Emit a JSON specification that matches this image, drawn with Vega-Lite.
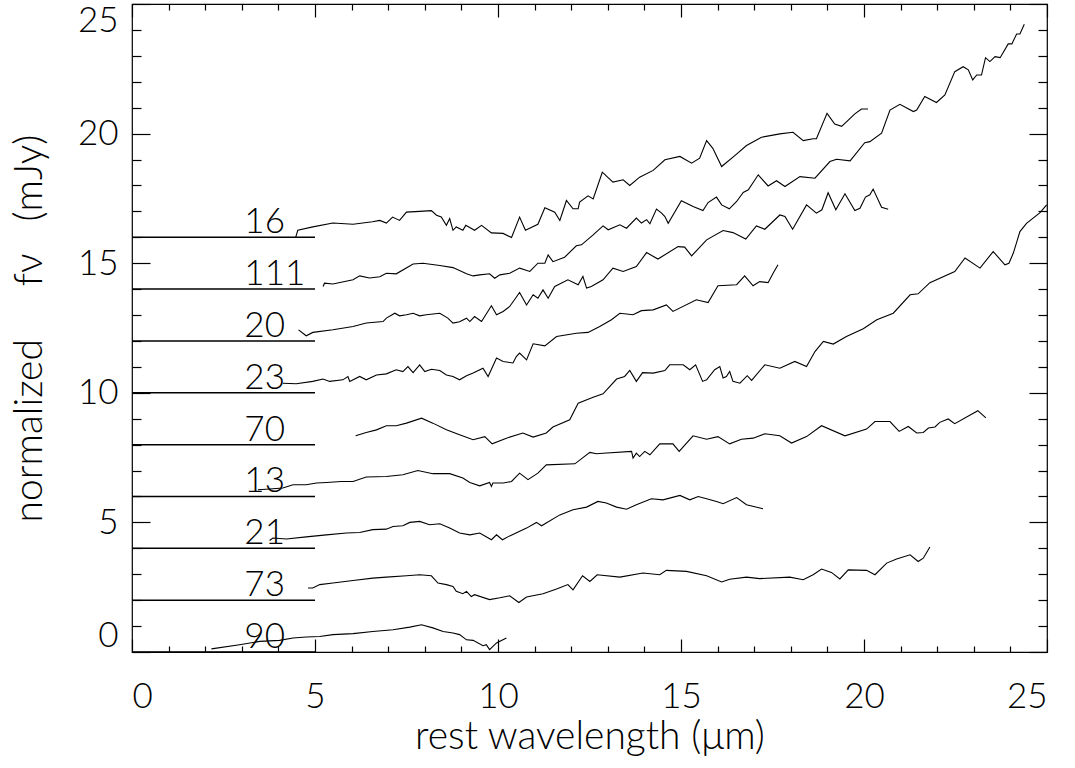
{
"$schema": "https://vega.github.io/schema/vega-lite/v6.json",
"width": 915, "height": 648,
"autosize": "none",
"padding": {"left": 132, "top": 4, "right": 28, "bottom": 116},
"background": "white",
"config": {
 "view": {"stroke": "black", "strokeWidth": 1.2},
 "axis": {"labelFont": "Lato", "labelFontWeight": 300, "labelFontSize": 35, "labelColor": "black", "titleFont": "Lato", "titleFontWeight": 300, "titleFontSize": 39, "titleColor": "black", "tickColor": "black", "tickWidth": 1.2, "tickOpacity": 1, "grid": false, "domain": false}
},
"datasets": {
 "labels": [
  {"id": "16", "base": 16}, {"id": "111", "base": 14}, {"id": "20", "base": 12}, {"id": "23", "base": 10}, {"id": "70", "base": 8},
  {"id": "13", "base": 6}, {"id": "21", "base": 4}, {"id": "73", "base": 2}, {"id": "90", "base": 0}
 ],
 "spectra": [
  {"id":"16","x":4.47,"y":15.99},{"id":"16","x":4.53,"y":16.27},{"id":"16","x":4.94,"y":16.4},{"id":"16","x":5.49,"y":16.55},{"id":"16","x":6.04,"y":16.5},{"id":"16","x":6.57,"y":16.6},{"id":"16","x":6.77,"y":16.65},{"id":"16","x":6.95,"y":16.55},{"id":"16","x":7.12,"y":16.78},{"id":"16","x":7.31,"y":16.65},{"id":"16","x":7.5,"y":16.97},{"id":"16","x":7.86,"y":17.0},{"id":"16","x":8.18,"y":17.03},{"id":"16","x":8.32,"y":16.85},{"id":"16","x":8.45,"y":16.78},{"id":"16","x":8.59,"y":16.46},{"id":"16","x":8.68,"y":16.72},{"id":"16","x":8.77,"y":16.27},{"id":"16","x":8.86,"y":16.4},{"id":"16","x":9.04,"y":16.27},{"id":"16","x":9.12,"y":16.46},{"id":"16","x":9.36,"y":16.27},{"id":"16","x":9.55,"y":16.46},{"id":"16","x":9.82,"y":16.17},{"id":"16","x":10.14,"y":16.15},{"id":"16","x":10.37,"y":15.99},{"id":"16","x":10.59,"y":16.78},{"id":"16","x":10.75,"y":16.27},{"id":"16","x":11.09,"y":16.5},{"id":"16","x":11.28,"y":17.14},{"id":"16","x":11.55,"y":16.97},{"id":"16","x":11.69,"y":16.65},{"id":"16","x":11.87,"y":17.42},{"id":"16","x":12.05,"y":17.1},{"id":"16","x":12.19,"y":17.1},{"id":"16","x":12.23,"y":17.36},{"id":"16","x":12.46,"y":17.6},{"id":"16","x":12.6,"y":17.48},{"id":"16","x":12.85,"y":18.51},{"id":"16","x":13.14,"y":18.13},{"id":"16","x":13.42,"y":18.22},{"id":"16","x":13.6,"y":18.0},{"id":"16","x":13.87,"y":18.32},{"id":"16","x":14.24,"y":18.58},{"id":"16","x":14.56,"y":18.99},{"id":"16","x":14.97,"y":19.12},{"id":"16","x":15.29,"y":18.86},{"id":"16","x":15.51,"y":19.05},{"id":"16","x":15.7,"y":19.73},{"id":"16","x":15.87,"y":19.43},{"id":"16","x":16.11,"y":18.73},{"id":"16","x":16.47,"y":19.15},{"id":"16","x":16.79,"y":19.54},{"id":"16","x":17.2,"y":19.86},{"id":"16","x":17.7,"y":19.99},{"id":"16","x":18.06,"y":20.05},{"id":"16","x":18.34,"y":19.73},{"id":"16","x":18.61,"y":19.8},{"id":"16","x":18.7,"y":19.8},{"id":"16","x":18.99,"y":20.78},{"id":"16","x":19.2,"y":20.37},{"id":"16","x":19.39,"y":20.28},{"id":"16","x":19.75,"y":20.76},{"id":"16","x":19.93,"y":20.95},{"id":"16","x":20.11,"y":20.95},
  {"id":"111","x":5.22,"y":14.1},{"id":"111","x":5.26,"y":14.23},{"id":"111","x":5.49,"y":14.2},{"id":"111","x":6.04,"y":14.36},{"id":"111","x":6.22,"y":14.51},{"id":"111","x":6.49,"y":14.43},{"id":"111","x":6.77,"y":14.48},{"id":"111","x":6.95,"y":14.61},{"id":"111","x":7.22,"y":14.59},{"id":"111","x":7.68,"y":14.97},{"id":"111","x":7.95,"y":15.0},{"id":"111","x":8.41,"y":14.91},{"id":"111","x":8.77,"y":14.83},{"id":"111","x":9.14,"y":14.59},{"id":"111","x":9.32,"y":14.51},{"id":"111","x":9.5,"y":14.55},{"id":"111","x":9.77,"y":14.59},{"id":"111","x":9.91,"y":14.42},{"id":"111","x":10.05,"y":14.55},{"id":"111","x":10.32,"y":14.61},{"id":"111","x":10.59,"y":14.81},{"id":"111","x":10.87,"y":14.68},{"id":"111","x":11.09,"y":15.0},{"id":"111","x":11.28,"y":15.0},{"id":"111","x":11.37,"y":15.32},{"id":"111","x":11.5,"y":15.06},{"id":"111","x":11.82,"y":15.23},{"id":"111","x":12.14,"y":15.67},{"id":"111","x":12.28,"y":15.71},{"id":"111","x":12.6,"y":16.09},{"id":"111","x":12.87,"y":16.44},{"id":"111","x":13.01,"y":16.29},{"id":"111","x":13.33,"y":16.48},{"id":"111","x":13.51,"y":16.35},{"id":"111","x":13.78,"y":16.74},{"id":"111","x":13.92,"y":16.55},{"id":"111","x":14.06,"y":16.68},{"id":"111","x":14.15,"y":16.52},{"id":"111","x":14.33,"y":17.09},{"id":"111","x":14.47,"y":16.93},{"id":"111","x":14.56,"y":16.8},{"id":"111","x":14.65,"y":16.54},{"id":"111","x":15.01,"y":17.41},{"id":"111","x":15.33,"y":17.19},{"id":"111","x":15.6,"y":17.03},{"id":"111","x":15.74,"y":17.34},{"id":"111","x":15.97,"y":17.55},{"id":"111","x":16.11,"y":17.25},{"id":"111","x":16.32,"y":17.1},{"id":"111","x":16.52,"y":17.38},{"id":"111","x":16.7,"y":17.73},{"id":"111","x":16.84,"y":17.83},{"id":"111","x":17.11,"y":18.41},{"id":"111","x":17.38,"y":17.98},{"id":"111","x":17.61,"y":18.18},{"id":"111","x":17.84,"y":17.96},{"id":"111","x":18.25,"y":18.34},{"id":"111","x":18.66,"y":18.28},{"id":"111","x":19.07,"y":18.92},{"id":"111","x":19.25,"y":19.01},{"id":"111","x":19.62,"y":18.95},{"id":"111","x":20.02,"y":19.65},{"id":"111","x":20.16,"y":19.69},{"id":"111","x":20.48,"y":20.02},{"id":"111","x":20.71,"y":20.91},{"id":"111","x":20.98,"y":21.13},{"id":"111","x":21.35,"y":20.85},{"id":"111","x":21.44,"y":20.91},{"id":"111","x":21.66,"y":21.43},{"id":"111","x":21.98,"y":21.2},{"id":"111","x":22.21,"y":21.49},{"id":"111","x":22.48,"y":22.39},{"id":"111","x":22.71,"y":22.58},{"id":"111","x":22.85,"y":22.46},{"id":"111","x":22.97,"y":22.07},{"id":"111","x":23.08,"y":22.26},{"id":"111","x":23.21,"y":22.26},{"id":"111","x":23.32,"y":22.93},{"id":"111","x":23.44,"y":22.78},{"id":"111","x":23.58,"y":22.97},{"id":"111","x":23.72,"y":22.93},{"id":"111","x":23.94,"y":23.46},{"id":"111","x":24.04,"y":23.46},{"id":"111","x":24.17,"y":23.84},{"id":"111","x":24.26,"y":23.84},{"id":"111","x":24.38,"y":24.22},
  {"id":"20","x":4.55,"y":12.43},{"id":"20","x":4.76,"y":12.2},{"id":"20","x":4.94,"y":12.33},{"id":"20","x":5.49,"y":12.43},{"id":"20","x":6.04,"y":12.56},{"id":"20","x":6.4,"y":12.69},{"id":"20","x":6.86,"y":12.75},{"id":"20","x":6.95,"y":12.88},{"id":"20","x":7.18,"y":13.07},{"id":"20","x":7.31,"y":12.97},{"id":"20","x":7.5,"y":13.01},{"id":"20","x":7.68,"y":13.07},{"id":"20","x":7.86,"y":12.97},{"id":"20","x":8.04,"y":13.01},{"id":"20","x":8.41,"y":13.07},{"id":"20","x":8.63,"y":12.88},{"id":"20","x":8.77,"y":12.69},{"id":"20","x":8.95,"y":12.74},{"id":"20","x":9.14,"y":12.88},{"id":"20","x":9.23,"y":12.75},{"id":"20","x":9.36,"y":12.94},{"id":"20","x":9.55,"y":12.75},{"id":"20","x":9.82,"y":13.36},{"id":"20","x":9.96,"y":13.01},{"id":"20","x":10.14,"y":13.14},{"id":"20","x":10.32,"y":13.33},{"id":"20","x":10.59,"y":13.87},{"id":"20","x":10.78,"y":13.39},{"id":"20","x":10.96,"y":13.78},{"id":"20","x":11.09,"y":13.65},{"id":"20","x":11.23,"y":13.97},{"id":"20","x":11.37,"y":13.65},{"id":"20","x":11.55,"y":14.1},{"id":"20","x":11.91,"y":14.36},{"id":"20","x":12.19,"y":14.17},{"id":"20","x":12.32,"y":14.49},{"id":"20","x":12.42,"y":14.04},{"id":"20","x":12.55,"y":14.1},{"id":"20","x":12.87,"y":14.36},{"id":"20","x":13.14,"y":14.81},{"id":"20","x":13.42,"y":14.68},{"id":"20","x":13.78,"y":14.87},{"id":"20","x":14.06,"y":15.41},{"id":"20","x":14.37,"y":15.16},{"id":"20","x":14.92,"y":15.64},{"id":"20","x":15.1,"y":15.62},{"id":"20","x":15.29,"y":15.28},{"id":"20","x":15.7,"y":15.9},{"id":"20","x":16.15,"y":16.26},{"id":"20","x":16.42,"y":16.18},{"id":"20","x":16.77,"y":15.93},{"id":"20","x":17.06,"y":16.44},{"id":"20","x":17.29,"y":16.31},{"id":"20","x":17.7,"y":16.86},{"id":"20","x":17.84,"y":16.8},{"id":"20","x":18.05,"y":16.31},{"id":"20","x":18.43,"y":17.25},{"id":"20","x":18.7,"y":16.93},{"id":"20","x":18.85,"y":17.06},{"id":"20","x":19.02,"y":17.72},{"id":"20","x":19.23,"y":17.06},{"id":"20","x":19.48,"y":17.68},{"id":"20","x":19.75,"y":17.03},{"id":"20","x":19.89,"y":17.12},{"id":"20","x":20.04,"y":17.55},{"id":"20","x":20.16,"y":17.64},{"id":"20","x":20.25,"y":17.86},{"id":"20","x":20.48,"y":17.16},{"id":"20","x":20.66,"y":17.08},
  {"id":"23","x":4.12,"y":10.37},{"id":"23","x":4.49,"y":10.35},{"id":"23","x":4.94,"y":10.44},{"id":"23","x":5.22,"y":10.53},{"id":"23","x":5.4,"y":10.44},{"id":"23","x":5.76,"y":10.5},{"id":"23","x":5.9,"y":10.63},{"id":"23","x":5.95,"y":10.44},{"id":"23","x":6.22,"y":10.63},{"id":"23","x":6.4,"y":10.5},{"id":"23","x":6.68,"y":10.69},{"id":"23","x":6.95,"y":10.73},{"id":"23","x":7.22,"y":10.89},{"id":"23","x":7.4,"y":10.82},{"id":"23","x":7.54,"y":11.01},{"id":"23","x":7.68,"y":10.78},{"id":"23","x":7.86,"y":11.08},{"id":"23","x":8.0,"y":10.82},{"id":"23","x":8.18,"y":10.91},{"id":"23","x":8.41,"y":10.86},{"id":"23","x":8.59,"y":10.69},{"id":"23","x":8.77,"y":10.63},{"id":"23","x":8.95,"y":10.5},{"id":"23","x":9.14,"y":10.66},{"id":"23","x":9.32,"y":10.76},{"id":"23","x":9.59,"y":10.95},{"id":"23","x":9.73,"y":10.63},{"id":"23","x":9.96,"y":11.34},{"id":"23","x":10.14,"y":11.21},{"id":"23","x":10.41,"y":11.15},{"id":"23","x":10.5,"y":11.4},{"id":"23","x":10.59,"y":11.53},{"id":"23","x":10.78,"y":11.27},{"id":"23","x":10.96,"y":11.89},{"id":"23","x":11.28,"y":11.81},{"id":"23","x":11.6,"y":12.17},{"id":"23","x":12.14,"y":12.3},{"id":"23","x":12.46,"y":12.33},{"id":"23","x":12.78,"y":12.56},{"id":"23","x":13.1,"y":12.82},{"id":"23","x":13.33,"y":13.07},{"id":"23","x":13.69,"y":13.01},{"id":"23","x":13.92,"y":13.17},{"id":"23","x":14.24,"y":13.2},{"id":"23","x":14.6,"y":13.39},{"id":"23","x":14.78,"y":13.14},{"id":"23","x":15.42,"y":13.59},{"id":"23","x":15.74,"y":13.48},{"id":"23","x":16.01,"y":14.13},{"id":"23","x":16.52,"y":14.17},{"id":"23","x":16.74,"y":14.51},{"id":"23","x":16.97,"y":14.13},{"id":"23","x":17.15,"y":14.29},{"id":"23","x":17.38,"y":14.25},{"id":"23","x":17.52,"y":14.62},{"id":"23","x":17.65,"y":14.94},
  {"id":"70","x":6.11,"y":8.34},{"id":"70","x":6.4,"y":8.47},{"id":"70","x":6.68,"y":8.57},{"id":"70","x":6.95,"y":8.73},{"id":"70","x":7.22,"y":8.73},{"id":"70","x":7.5,"y":8.83},{"id":"70","x":7.91,"y":9.02},{"id":"70","x":8.22,"y":8.83},{"id":"70","x":8.59,"y":8.57},{"id":"70","x":8.95,"y":8.38},{"id":"70","x":9.32,"y":8.19},{"id":"70","x":9.64,"y":8.31},{"id":"70","x":9.84,"y":8.03},{"id":"70","x":10.23,"y":8.25},{"id":"70","x":10.68,"y":8.45},{"id":"70","x":10.96,"y":8.29},{"id":"70","x":11.32,"y":8.45},{"id":"70","x":11.5,"y":8.68},{"id":"70","x":11.96,"y":8.96},{"id":"70","x":12.19,"y":9.6},{"id":"70","x":12.6,"y":9.83},{"id":"70","x":12.87,"y":9.96},{"id":"70","x":13.24,"y":10.53},{"id":"70","x":13.46,"y":10.63},{"id":"70","x":13.6,"y":10.86},{"id":"70","x":13.78,"y":10.44},{"id":"70","x":13.95,"y":10.78},{"id":"70","x":14.24,"y":10.76},{"id":"70","x":14.56,"y":10.86},{"id":"70","x":14.69,"y":11.08},{"id":"70","x":15.06,"y":11.08},{"id":"70","x":15.24,"y":10.89},{"id":"70","x":15.4,"y":11.08},{"id":"70","x":15.59,"y":10.44},{"id":"70","x":15.7,"y":10.5},{"id":"70","x":15.92,"y":10.89},{"id":"70","x":16.06,"y":11.01},{"id":"70","x":16.15,"y":10.57},{"id":"70","x":16.24,"y":10.63},{"id":"70","x":16.33,"y":10.82},{"id":"70","x":16.42,"y":10.44},{"id":"70","x":16.61,"y":10.37},{"id":"70","x":16.81,"y":10.66},{"id":"70","x":16.93,"y":10.48},{"id":"70","x":17.29,"y":11.08},{"id":"70","x":17.7,"y":10.95},{"id":"70","x":18.11,"y":11.21},{"id":"70","x":18.43,"y":11.01},{"id":"70","x":18.66,"y":11.59},{"id":"70","x":18.89,"y":11.98},{"id":"70","x":19.16,"y":11.88},{"id":"70","x":19.52,"y":12.17},{"id":"70","x":19.98,"y":12.47},{"id":"70","x":20.35,"y":12.82},{"id":"70","x":20.8,"y":13.07},{"id":"70","x":21.26,"y":13.78},{"id":"70","x":21.48,"y":13.82},{"id":"70","x":21.8,"y":14.25},{"id":"70","x":22.48,"y":14.68},{"id":"70","x":22.76,"y":15.2},{"id":"70","x":23.17,"y":14.81},{"id":"70","x":23.53,"y":15.45},{"id":"70","x":23.85,"y":14.94},{"id":"70","x":23.96,"y":15.0},{"id":"70","x":24.08,"y":15.39},{"id":"70","x":24.26,"y":16.22},{"id":"70","x":24.44,"y":16.54},{"id":"70","x":24.81,"y":16.95},{"id":"70","x":24.99,"y":17.25},
  {"id":"13","x":3.44,"y":6.26},{"id":"13","x":3.76,"y":6.29},{"id":"13","x":4.12,"y":6.33},{"id":"13","x":4.4,"y":6.45},{"id":"13","x":4.76,"y":6.45},{"id":"13","x":5.04,"y":6.52},{"id":"13","x":5.31,"y":6.54},{"id":"13","x":5.72,"y":6.58},{"id":"13","x":6.04,"y":6.58},{"id":"13","x":6.4,"y":6.75},{"id":"13","x":6.95,"y":6.77},{"id":"13","x":7.4,"y":6.84},{"id":"13","x":7.81,"y":7.0},{"id":"13","x":8.22,"y":6.88},{"id":"13","x":8.68,"y":6.88},{"id":"13","x":9.04,"y":6.71},{"id":"13","x":9.23,"y":6.54},{"id":"13","x":9.5,"y":6.41},{"id":"13","x":9.77,"y":6.54},{"id":"13","x":9.82,"y":6.39},{"id":"13","x":9.86,"y":6.52},{"id":"13","x":10.14,"y":6.52},{"id":"13","x":10.37,"y":6.58},{"id":"13","x":10.59,"y":6.9},{"id":"13","x":10.82,"y":6.65},{"id":"13","x":11.09,"y":6.9},{"id":"13","x":11.32,"y":7.22},{"id":"13","x":12.1,"y":7.26},{"id":"13","x":12.51,"y":7.7},{"id":"13","x":12.69,"y":7.65},{"id":"13","x":12.87,"y":7.67},{"id":"13","x":13.65,"y":7.74},{"id":"13","x":13.69,"y":7.48},{"id":"13","x":13.78,"y":7.67},{"id":"13","x":13.87,"y":7.54},{"id":"13","x":14.01,"y":7.74},{"id":"13","x":14.15,"y":7.61},{"id":"13","x":14.42,"y":8.03},{"id":"13","x":14.78,"y":8.03},{"id":"13","x":14.95,"y":7.74},{"id":"13","x":15.33,"y":8.34},{"id":"13","x":15.7,"y":8.21},{"id":"13","x":16.01,"y":8.31},{"id":"13","x":16.33,"y":8.03},{"id":"13","x":16.65,"y":8.21},{"id":"13","x":16.97,"y":8.25},{"id":"13","x":17.29,"y":8.42},{"id":"13","x":17.7,"y":8.34},{"id":"13","x":18.02,"y":8.06},{"id":"13","x":18.43,"y":8.31},{"id":"13","x":18.84,"y":8.73},{"id":"13","x":19.48,"y":8.34},{"id":"13","x":20.07,"y":8.6},{"id":"13","x":20.3,"y":8.89},{"id":"13","x":20.71,"y":8.89},{"id":"13","x":20.96,"y":8.51},{"id":"13","x":21.21,"y":8.7},{"id":"13","x":21.44,"y":8.45},{"id":"13","x":21.62,"y":8.47},{"id":"13","x":21.76,"y":8.64},{"id":"13","x":21.94,"y":8.68},{"id":"13","x":22.07,"y":8.86},{"id":"13","x":22.3,"y":8.99},{"id":"13","x":22.48,"y":8.81},{"id":"13","x":23.11,"y":9.31},{"id":"13","x":23.33,"y":9.03},
  {"id":"21","x":3.76,"y":4.3},{"id":"21","x":3.85,"y":4.4},{"id":"21","x":4.22,"y":4.36},{"id":"21","x":4.76,"y":4.44},{"id":"21","x":5.31,"y":4.52},{"id":"21","x":5.86,"y":4.59},{"id":"21","x":6.22,"y":4.61},{"id":"21","x":6.58,"y":4.72},{"id":"21","x":6.95,"y":4.74},{"id":"21","x":7.13,"y":4.84},{"id":"21","x":7.4,"y":4.87},{"id":"21","x":7.59,"y":5.0},{"id":"21","x":7.86,"y":5.04},{"id":"21","x":8.13,"y":4.91},{"id":"21","x":8.41,"y":4.95},{"id":"21","x":8.68,"y":4.78},{"id":"21","x":8.95,"y":4.59},{"id":"21","x":9.23,"y":4.52},{"id":"21","x":9.5,"y":4.59},{"id":"21","x":9.82,"y":4.33},{"id":"21","x":9.96,"y":4.52},{"id":"21","x":10.12,"y":4.33},{"id":"21","x":10.32,"y":4.48},{"id":"21","x":10.78,"y":4.78},{"id":"21","x":11.05,"y":5.0},{"id":"21","x":11.19,"y":4.87},{"id":"21","x":11.69,"y":5.29},{"id":"21","x":12.05,"y":5.49},{"id":"21","x":12.42,"y":5.59},{"id":"21","x":12.73,"y":5.81},{"id":"21","x":12.96,"y":5.75},{"id":"21","x":13.24,"y":5.59},{"id":"21","x":13.51,"y":5.51},{"id":"21","x":13.78,"y":5.68},{"id":"21","x":14.19,"y":5.91},{"id":"21","x":14.51,"y":5.87},{"id":"21","x":14.97,"y":6.04},{"id":"21","x":15.24,"y":5.87},{"id":"21","x":15.47,"y":6.0},{"id":"21","x":15.7,"y":5.91},{"id":"21","x":15.97,"y":5.81},{"id":"21","x":16.15,"y":5.72},{"id":"21","x":16.52,"y":5.96},{"id":"21","x":16.79,"y":5.68},{"id":"21","x":17.24,"y":5.53},
  {"id":"73","x":4.81,"y":2.47},{"id":"73","x":4.94,"y":2.47},{"id":"73","x":5.13,"y":2.6},{"id":"73","x":5.49,"y":2.66},{"id":"73","x":6.04,"y":2.76},{"id":"73","x":6.58,"y":2.85},{"id":"73","x":6.95,"y":2.89},{"id":"73","x":7.5,"y":2.94},{"id":"73","x":7.86,"y":2.98},{"id":"73","x":8.18,"y":2.94},{"id":"73","x":8.36,"y":2.66},{"id":"73","x":8.59,"y":2.6},{"id":"73","x":8.77,"y":2.53},{"id":"73","x":8.86,"y":2.34},{"id":"73","x":9.04,"y":2.25},{"id":"73","x":9.14,"y":2.34},{"id":"73","x":9.27,"y":2.14},{"id":"73","x":9.36,"y":2.21},{"id":"73","x":9.77,"y":2.02},{"id":"73","x":10.05,"y":2.09},{"id":"73","x":10.32,"y":2.17},{"id":"73","x":10.57,"y":1.91},{"id":"73","x":10.78,"y":2.12},{"id":"73","x":11.23,"y":2.25},{"id":"73","x":11.6,"y":2.43},{"id":"73","x":11.91,"y":2.6},{"id":"73","x":12.05,"y":2.4},{"id":"73","x":12.31,"y":2.94},{"id":"73","x":12.51,"y":2.72},{"id":"73","x":12.71,"y":2.98},{"id":"73","x":13.33,"y":2.89},{"id":"73","x":13.96,"y":3.05},{"id":"73","x":14.42,"y":2.98},{"id":"73","x":14.6,"y":3.15},{"id":"73","x":15.15,"y":3.11},{"id":"73","x":15.7,"y":2.94},{"id":"73","x":16.11,"y":2.7},{"id":"73","x":16.33,"y":2.81},{"id":"73","x":16.79,"y":2.89},{"id":"73","x":17.15,"y":2.83},{"id":"73","x":17.97,"y":2.89},{"id":"73","x":18.34,"y":2.79},{"id":"73","x":18.61,"y":2.98},{"id":"73","x":18.84,"y":3.2},{"id":"73","x":19.11,"y":3.07},{"id":"73","x":19.34,"y":2.82},{"id":"73","x":19.57,"y":3.17},{"id":"73","x":20.07,"y":3.15},{"id":"73","x":20.3,"y":2.98},{"id":"73","x":20.62,"y":3.43},{"id":"73","x":20.89,"y":3.59},{"id":"73","x":21.26,"y":3.75},{"id":"73","x":21.48,"y":3.49},{"id":"73","x":21.62,"y":3.62},{"id":"73","x":21.8,"y":4.05},
  {"id":"90","x":2.17,"y":0.12},{"id":"90","x":2.94,"y":0.28},{"id":"90","x":3.49,"y":0.41},{"id":"90","x":4.03,"y":0.45},{"id":"90","x":4.4,"y":0.54},{"id":"90","x":4.76,"y":0.58},{"id":"90","x":5.13,"y":0.6},{"id":"90","x":5.49,"y":0.67},{"id":"90","x":6.04,"y":0.71},{"id":"90","x":6.58,"y":0.79},{"id":"90","x":7.13,"y":0.86},{"id":"90","x":7.59,"y":0.96},{"id":"90","x":7.91,"y":1.05},{"id":"90","x":8.22,"y":0.93},{"id":"90","x":8.5,"y":0.79},{"id":"90","x":8.77,"y":0.73},{"id":"90","x":8.95,"y":0.67},{"id":"90","x":9.14,"y":0.47},{"id":"90","x":9.32,"y":0.45},{"id":"90","x":9.59,"y":0.24},{"id":"90","x":9.68,"y":0.28},{"id":"90","x":9.77,"y":0.09},{"id":"90","x":9.96,"y":0.35},{"id":"90","x":10.23,"y":0.54}
 ]
},
"layer": [
 {
  "data": {"name": "spectra"},
  "mark": {"type": "line", "color": "black", "strokeWidth": 1.1},
  "encoding": {
   "x": {"field": "x", "type": "quantitative", "scale": {"domain": [0, 25], "nice": false, "zero": false},
         "axis": {"orient": "bottom", "values": [0, 5, 10, 15, 20, 25], "ticks": false, "labelPadding": 27, "title": "rest wavelength (\u03bcm)", "titlePadding": 3}},
   "y": {"field": "y", "type": "quantitative", "scale": {"domain": [0, 25], "nice": false, "zero": false},
         "axis": {"orient": "left", "values": [0, 5, 10, 15, 20, 25], "ticks": false, "labelFlush": true, "labelFlushOffset": 1, "labelPadding": 14, "title": "normalized\u00a0\u00a0\u00a0\u00a0\u00a0f\u03bd\u00a0\u00a0\u00a0(mJy)", "titlePadding": 28}},
   "detail": {"field": "id"}
  }
 },
 {
  "data": {"name": "labels"},
  "mark": {"type": "rule", "color": "black", "strokeWidth": 1.5},
  "encoding": {
   "x": {"datum": 0, "type": "quantitative",
         "axis": {"orient": "top", "offset": -648, "values": [0, 5, 10, 15, 20, 25], "ticks": true, "labels": false, "title": null, "tickSize": 13}},
   "x2": {"datum": 5},
   "y": {"field": "base", "type": "quantitative",
         "axis": {"orient": "right", "offset": -915, "values": [0, 5, 10, 15, 20, 25], "ticks": true, "labels": false, "title": null, "tickSize": 18}}
  }
 },
 {
  "data": {"name": "labels"},
  "mark": {"type": "text", "align": "left", "baseline": "alphabetic", "dy": -4, "font": "Lato", "fontWeight": 300, "fontSize": 35, "color": "black"},
  "encoding": {
   "x": {"datum": 3.07, "type": "quantitative",
         "axis": {"orient": "bottom", "offset": -648, "values": [0, 5, 10, 15, 20, 25], "ticks": true, "labels": false, "title": null, "tickSize": 13}},
   "y": {"field": "base", "type": "quantitative",
         "axis": {"orient": "left", "offset": -915, "values": [0, 5, 10, 15, 20, 25], "ticks": true, "labels": false, "title": null, "tickSize": 18}},
   "text": {"field": "id"}
  }
 },
 {
  "data": {"name": "labels"},
  "mark": {"type": "rule", "opacity": 0},
  "encoding": {
   "x": {"datum": 0, "type": "quantitative",
         "axis": {"orient": "top", "offset": -648, "values": [1,2,3,4,6,7,8,9,11,12,13,14,16,17,18,19,21,22,23,24], "ticks": true, "labels": false, "title": null, "tickSize": 6}},
   "x2": {"datum": 5},
   "y": {"field": "base", "type": "quantitative",
         "axis": {"orient": "right", "offset": -915, "values": [1,2,3,4,6,7,8,9,11,12,13,14,16,17,18,19,21,22,23,24], "ticks": true, "labels": false, "title": null, "tickSize": 9}}
  }
 },
 {
  "data": {"name": "labels"},
  "mark": {"type": "rule", "opacity": 0},
  "encoding": {
   "x": {"datum": 0, "type": "quantitative",
         "axis": {"orient": "bottom", "offset": -648, "values": [1,2,3,4,6,7,8,9,11,12,13,14,16,17,18,19,21,22,23,24], "ticks": true, "labels": false, "title": null, "tickSize": 6}},
   "x2": {"datum": 5},
   "y": {"field": "base", "type": "quantitative",
         "axis": {"orient": "left", "offset": -915, "values": [1,2,3,4,6,7,8,9,11,12,13,14,16,17,18,19,21,22,23,24], "ticks": true, "labels": false, "title": null, "tickSize": 9}}
  }
 }
],
"resolve": {"axis": {"x": "independent", "y": "independent"}}
}
